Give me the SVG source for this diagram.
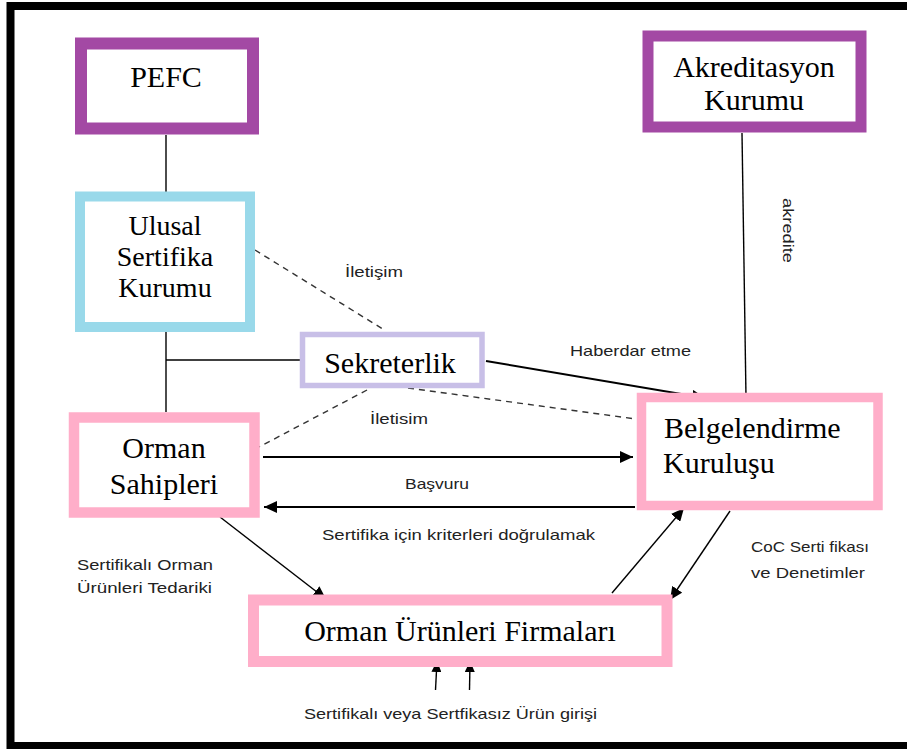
<svg xmlns="http://www.w3.org/2000/svg" width="907" height="749" viewBox="0 0 907 749">
<defs>
<marker id="ah" markerUnits="userSpaceOnUse" markerWidth="14" markerHeight="12" refX="13" refY="6" orient="auto">
<path d="M0,0 L13,6 L0,12 z" fill="#000"/>
</marker>
<marker id="ahs" markerUnits="userSpaceOnUse" markerWidth="12" markerHeight="10" refX="11" refY="5" orient="auto">
<path d="M0,0 L11,5 L0,10 z" fill="#000"/>
</marker>
<style>
.box{fill:#fff}
.t{font-family:"Liberation Serif","Times New Roman",serif;font-size:30px;fill:#000}
.t28{font-size:28px}
.l{font-family:"Liberation Sans",Arial,sans-serif;font-size:15px;fill:#222}
.c{stroke:#000;stroke-width:1.4;fill:none}
.a{stroke:#000;stroke-width:2;fill:none}
.d{stroke:#333;stroke-width:1.4;stroke-dasharray:6,5;fill:none}
</style>
</defs>
<rect x="10.5" y="6" width="912" height="740" fill="#fff" stroke="#000" stroke-width="8"/>

<g id="connectors">
<line class="c" x1="166" y1="135" x2="166" y2="192"/>
<line class="c" x1="742" y1="133" x2="746" y2="397"/>
<line class="c" x1="166" y1="331" x2="166" y2="412"/>
<line class="c" x1="166" y1="360" x2="302" y2="360"/>
<line class="d" x1="255" y1="250" x2="386" y2="331"/>
<line class="d" x1="367" y1="390" x2="259" y2="447"/>
<line class="d" x1="408" y1="388" x2="636" y2="419"/>
<line class="a" x1="486" y1="361" x2="705" y2="398" marker-end="url(#ah)"/>
<line class="a" x1="263" y1="457" x2="633" y2="457" marker-end="url(#ah)"/>
<line class="a" x1="635" y1="507" x2="264" y2="507" marker-end="url(#ah)"/>
<line class="c" x1="220" y1="517" x2="326" y2="599" marker-end="url(#ah)"/>
<line class="c" x1="612" y1="593" x2="684" y2="508" marker-end="url(#ah)"/>
<line class="c" x1="730" y1="511" x2="670" y2="600" marker-end="url(#ah)"/>
<line class="c" x1="435.5" y1="690" x2="437" y2="661" marker-end="url(#ahs)"/>
<line class="c" x1="469.5" y1="690" x2="470" y2="661" marker-end="url(#ahs)"/>
</g>

<g id="pefc">
<rect class="box" x="81" y="43.5" width="172" height="85" stroke="#a349a4" stroke-width="12"/>
<text class="t" x="166" y="87" text-anchor="middle">PEFC</text>
</g>
<g id="akreditasyon">
<rect class="box" x="648" y="36" width="213" height="91" stroke="#a349a4" stroke-width="11"/>
<text class="t" x="754" y="77" text-anchor="middle">Akreditasyon</text>
<text class="t" x="754" y="110" text-anchor="middle">Kurumu</text>
</g>
<g id="ulusal">
<rect class="box" x="80" y="196.5" width="170" height="130.5" stroke="#99d9ea" stroke-width="10"/>
<text class="t t28" x="165" y="235" text-anchor="middle">Ulusal</text>
<text class="t t28" x="165" y="266" text-anchor="middle">Sertifika</text>
<text class="t t28" x="165" y="297" text-anchor="middle">Kurumu</text>
</g>
<g id="sekreterlik">
<rect class="box" x="302.5" y="334.5" width="179.5" height="51" stroke="#c8bfe7" stroke-width="5.5"/>
<text class="t" x="390" y="373" text-anchor="middle">Sekreterlik</text>
</g>
<g id="orman">
<rect class="box" x="74" y="417.5" width="180.5" height="95" stroke="#ffaec9" stroke-width="10.5"/>
<text class="t" x="164" y="458" text-anchor="middle">Orman</text>
<text class="t" x="164" y="494" text-anchor="middle">Sahipleri</text>
</g>
<g id="belgelendirme">
<rect class="box" x="641.5" y="397.5" width="236.5" height="108" stroke="#ffaec9" stroke-width="9.5"/>
<text class="t" x="664" y="438">Belgelendirme</text>
<text class="t" x="663" y="473">Kuruluşu</text>
</g>
<g id="firmalar">
<rect class="box" x="253.5" y="600" width="413.5" height="61.5" stroke="#ffaec9" stroke-width="11"/>
<text class="t" x="460" y="641" text-anchor="middle">Orman Ürünleri Firmaları</text>
</g>

<g id="labels">
<text class="l" x="345" y="277" textLength="58" lengthAdjust="spacingAndGlyphs">İletişim</text>
<text class="l" x="570" y="356" textLength="121" lengthAdjust="spacingAndGlyphs">Haberdar etme</text>
<text class="l" transform="translate(783,198) rotate(90)" textLength="65" lengthAdjust="spacingAndGlyphs">akredite</text>
<text class="l" x="370" y="424" textLength="58" lengthAdjust="spacingAndGlyphs">İletisim</text>
<text class="l" x="405" y="489" textLength="64" lengthAdjust="spacingAndGlyphs">Başvuru</text>
<text class="l" x="322" y="540" textLength="273" lengthAdjust="spacingAndGlyphs">Sertifika için kriterleri doğrulamak</text>
<text class="l" x="77" y="570" textLength="136" lengthAdjust="spacingAndGlyphs">Sertifikalı Orman</text>
<text class="l" x="77" y="593" textLength="135" lengthAdjust="spacingAndGlyphs">Ürünleri Tedariki</text>
<text class="l" x="751" y="552" textLength="118" lengthAdjust="spacingAndGlyphs">CoC Serti fikası</text>
<text class="l" x="751" y="578" textLength="114" lengthAdjust="spacingAndGlyphs">ve Denetimler</text>
<text class="l" x="304" y="719" textLength="293" lengthAdjust="spacingAndGlyphs">Sertifikalı veya  Sertfikasız Ürün girişi</text>
</g>
</svg>
